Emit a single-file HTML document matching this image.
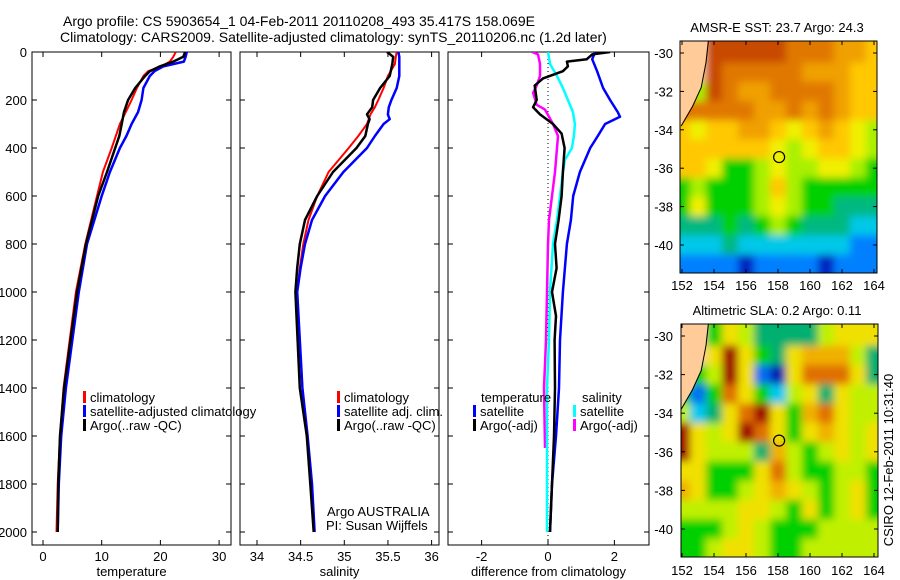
<!DOCTYPE html>
<html><head><meta charset="utf-8">
<style>
html,body{margin:0;padding:0;background:#fff;}
svg{display:block;font-family:"Liberation Sans",Arial,sans-serif;}
text{fill:#000;}
</style></head>
<body>
<svg id="fig" width="900" height="580" viewBox="0 0 900 580" xmlns="http://www.w3.org/2000/svg">
<defs>
<filter id="blur" filterUnits="userSpaceOnUse" x="640" y="0" width="260" height="580"><feGaussianBlur stdDeviation="4"/></filter>
<clipPath id="clipM1"><rect x="680" y="41" width="197" height="232"/></clipPath>
<clipPath id="clipM2"><rect x="681" y="324" width="197" height="233"/></clipPath>
<clipPath id="clipP1"><rect x="32" y="52" width="199" height="493"/></clipPath>
<clipPath id="clipP2"><rect x="240" y="52" width="199" height="493"/></clipPath>
<clipPath id="clipP3"><rect x="448" y="52" width="201" height="493"/></clipPath>
</defs>
<g font-size="14">
<text x="63" y="26">Argo profile: CS 5903654_1 04-Feb-2011 20110208_493 35.417S 158.069E</text>
<text x="60" y="42">Climatology: CARS2009. Satellite-adjusted climatology: synTS_20110206.nc (1.2d later)</text>
</g>
<g id="panels"></g>
<g id="maps"></g>
</svg>
<script>
// ---------- profile data ----------
const tDepth = [0,20,40,60,80,100,150,200,250,300,350,400,500,600,800,1000,1400,1600,1800,2000];
const tClim  = [22.6,22.2,21.6,20.2,17.9,17.1,16.0,15.1,14.1,13.1,12.4,11.7,10.2,9.2,7.2,5.6,3.5,2.9,2.5,2.3];
const tSat   = [24.5,24.3,24.0,20.5,19.0,18.2,17.1,16.8,16.2,15.1,14.2,13.1,11.4,10.0,7.5,6.1,3.9,3.1,2.7,2.5];
const tArgo  = [24.2,23.9,22.2,19.9,18.2,17.4,15.7,14.5,13.8,13.4,13.0,12.3,10.9,9.4,7.3,5.8,3.6,2.9,2.6,2.5];

const sDepth = [0,20,50,100,150,200,230,260,280,300,350,400,500,600,700,800,900,1000,1400,1600,1800,2000];
const sClim  = [35.60,35.59,35.58,35.50,35.45,35.39,35.35,35.30,35.28,35.26,35.16,35.05,34.82,34.69,34.59,34.53,34.49,34.46,34.52,34.58,34.63,34.66];
const sSat   = [35.62,35.63,35.63,35.63,35.60,35.54,35.51,35.50,35.52,35.45,35.35,35.26,34.99,34.78,34.63,34.55,34.50,34.46,34.52,34.58,34.63,34.66];
const sArgo  = [35.49,35.56,35.55,35.52,35.41,35.33,35.32,35.26,35.29,35.27,35.24,35.14,34.87,34.69,34.55,34.49,34.46,34.44,34.49,34.57,34.61,34.65];

const dDepthTS = [0,30,80,150,200,250,270,300,350,400,500,600,700,800,1000,1200,1400,1600,1800,2000];
const dTSat    = [1.42,1.33,1.48,1.66,1.87,2.10,2.17,1.72,1.50,1.27,0.96,0.76,0.69,0.57,0.45,0.36,0.33,0.24,0.12,0.06];
const dDepthTA = [0,10,30,40,60,80,110,140,200,230,260,300,340,400,500,600,700,800,900,1000,1100,1200,1400,1600,1800,2000];
const dTArgo   = [1.87,1.33,1.17,0.57,0.60,0.45,-0.15,-0.40,-0.34,-0.45,-0.24,0.15,0.41,0.50,0.45,0.41,0.32,0.21,0.26,0.12,0.24,0.20,0.21,0.18,0.12,0.06];
const dDepthSS = [0,50,100,150,200,250,300,350,400,450,500,600,700,800,1000,1200,1400,2000];
const dSSat    = [0.00,0.06,0.27,0.45,0.60,0.75,0.81,0.78,0.72,0.51,0.45,0.36,0.27,0.15,0.06,0.03,-0.03,-0.03];
const dDepthSA = [0,10,50,100,140,170,220,240,300,350,400,500,600,700,800,1000,1200,1400,1650];
const dSArgo   = [-0.48,-0.30,-0.24,-0.24,-0.34,-0.45,-0.34,-0.09,0.15,0.30,0.27,0.21,0.12,0.03,0.00,-0.03,-0.06,-0.12,-0.09];

const depthTicks = [0,200,400,600,800,1000,1200,1400,1600,1800,2000];
const tTicks = [0,10,20,30];
const sTicks = [34,34.5,35,35.5,36];
const sTickLabels = ["34","34.5","35","35.5","36"];
const dTicks = [-2,0,2];

// ---------- map data (1° cells, rows lat -30..-41, cols lon 152..164; L = land) ----------
const mapLons = [152,153,154,155,156,157,158,159,160,161,162,163,164];
const mapLats = [-30,-31,-32,-33,-34,-35,-36,-37,-38,-39,-40,-41];
const sstRows = ["LLaaaaa999887","LLa9999988877","L5a9889999877","9999988989877","7677887678765","7777776567765","7764456556654","4544457544444","4644456544333","3334345433322","2223222222211","1111011110111"];
const slaRows = ["LL46533335666","LL69643677753","L459610688863","4148642563655","5236896478655","9656986467656","9655537545656","6644468544554","7644567654564","5555665464564","4445654445555","4456654455555"];
const sstColors = ["#0020c0","#0080ff","#00c8e8","#00b880","#00d000","#a8f000","#f0f000","#ffc800","#f0a000","#e07800","#c84800","#a00000"];
const slaColors = ["#0020b0","#0070f0","#00c8f0","#00b070","#00d000","#c0f000","#f0e000","#f0b000","#e07000","#a00000"];
const sstTitle = "AMSR-E SST: 23.7 Argo: 24.3";
const slaTitle = "Altimetric SLA: 0.2 Argo: 0.11";
const argoLon = 158.07, argoLat = -35.42;
const mapXTicks = [152,154,156,158,160,162,164];
const mapYTicks = [-30,-32,-34,-36,-38,-40];

const NS = "http://www.w3.org/2000/svg";
function mk(tag, attrs, parent){const e=document.createElementNS(NS,tag);for(const k in attrs)e.setAttribute(k,attrs[k]);if(parent)parent.appendChild(e);return e;}
const panels = document.getElementById('panels');
const maps = document.getElementById('maps');
const yOf = d => 52 + 0.24*d;

function drawPanel(key, left, right, xScale, xt, xtLabels, title, showY){
  const g = mk('g',{},panels);
  
  
  const frame = mk('rect',{x:left,y:52,width:right-left,height:493,fill:'none',stroke:'#000','stroke-width':1},g);
  
  
  depthTicks.forEach(d=>{
    const y=yOf(d);
    mk('line',{x1:left,y1:y,x2:left+5,y2:y,stroke:'#000'},g);
    mk('line',{x1:right,y1:y,x2:right-5,y2:y,stroke:'#000'},g);
    if(showY){
      const t=mk('text',{x:27,y:y+5,'text-anchor':'end','font-size':13},g);
      t.textContent=d;
      
      
    }
  });
  xt.forEach((v,i)=>{
    const x=xScale(v);
    mk('line',{x1:x,y1:545,x2:x,y2:540,stroke:'#000'},g);
    mk('line',{x1:x,y1:52,x2:x,y2:57,stroke:'#000'},g);
    const t=mk('text',{x:x,y:561,'text-anchor':'middle','font-size':13},g);
    t.textContent=xtLabels[i];
    
    
  });
  const at=mk('text',{x:(left+right)/2,y:576,'text-anchor':'middle','font-size':13},g);
  at.textContent=title;
  
  
  return g;
}
function line(g, clip, depths, vals, xScale, color, w, name){
  const pts = depths.map((d,i)=>xScale(vals[i]).toFixed(1)+','+yOf(d).toFixed(1)).join(' ');
  const p = mk('polyline',{points:pts,fill:'none',stroke:color,'stroke-width':w,'stroke-linejoin':'round','clip-path':'url(#'+clip+')'},g);
  
  
}
function legend(g, x, y, color, label, name){
  mk('rect',{x:x,y:y-11,width:3,height:12,fill:color},g);
  const t=mk('text',{x:x+7,y:y,'font-size':13},g);
  t.textContent=label;
  
  
}

// Panel 1: temperature
const xT = v => 43 + 5.87*v;
const g1 = drawPanel('temperature', 32, 231, xT, tTicks, tTicks.map(String), 'temperature', true);
line(g1,'clipP1',tDepth,tClim,xT,'#ff0000',2,'temperature-climatology-line');
line(g1,'clipP1',tDepth,tSat,xT,'#0000ff',2.5,'temperature-satellite-line');
line(g1,'clipP1',tDepth,tArgo,xT,'#000000',2.5,'temperature-argo-line');
legend(g1,83,402,'#ff0000','climatology','legend-climatology');
legend(g1,83,416,'#0000ff','satellite-adjusted climatology','legend-satellite-adjusted');
legend(g1,83,430,'#000000','Argo(..raw -QC)','legend-argo');

// Panel 2: salinity
const xS = v => 257 + 87.3*(v-34);
const g2 = drawPanel('salinity', 240, 439, xS, sTicks, sTickLabels, 'salinity', false);
line(g2,'clipP2',sDepth,sClim,xS,'#ff0000',2,'salinity-climatology-line');
line(g2,'clipP2',sDepth,sSat,xS,'#0000ff',2.5,'salinity-satellite-line');
line(g2,'clipP2',sDepth,sArgo,xS,'#000000',2.5,'salinity-argo-line');
legend(g2,337,402,'#ff0000','climatology','legend-climatology-sal');
legend(g2,337,416,'#0000ff','satellite adj. clim.','legend-satellite-sal');
legend(g2,337,430,'#000000','Argo(..raw -QC)','legend-argo-sal');
{const t1=mk('text',{x:327,y:516,'font-size':13},g2);t1.textContent='Argo AUSTRALIA';


const t2=mk('text',{x:326,y:530,'font-size':13},g2);t2.textContent='PI: Susan Wijffels';

}

// Panel 3: difference
const xD = v => 548 + 33.2*v;
const g3 = drawPanel('difference', 448, 649, xD, dTicks, dTicks.map(String), 'difference from climatology', false);
{const z=mk('line',{x1:xD(0),y1:55,x2:xD(0),y2:540,stroke:'#000','stroke-width':1,'stroke-dasharray':'1,3'},g3);

}
line(g3,'clipP3',dDepthSA,dSArgo,xD,'#ff00ff',2.5,'salinity-argo-diff-line');
line(g3,'clipP3',dDepthSS,dSSat,xD,'#00ffff',2.5,'salinity-satellite-diff-line');
line(g3,'clipP3',dDepthTS,dTSat,xD,'#0000ff',2.5,'temperature-satellite-diff-line');
line(g3,'clipP3',dDepthTA,dTArgo,xD,'#000000',2.5,'temperature-argo-diff-line');
{const t=mk('text',{x:481,y:402,'font-size':13},g3);t.textContent='temperature';


const s=mk('text',{x:582,y:402,'font-size':13},g3);s.textContent='salinity';

}
legend(g3,473,416,'#0000ff','satellite','legend-temp-satellite');
legend(g3,473,430,'#000000','Argo(-adj)','legend-temp-argo');
legend(g3,573,416,'#00ffff','satellite','legend-sal-satellite');
legend(g3,573,430,'#ff00ff','Argo(-adj)','legend-sal-argo');

// ---------- maps ----------
function drawMap(key, x0, y0, w, h, latTop, pxLat, rows, colors, title, clip, xlabY){
  const lonX = l => 682 + (l-152)*16;
  const latY = v => latTop + (-30 - v)*pxLat;
  const g = mk('g',{},maps);
  
  
  const cg = mk('g',{'clip-path':'url(#'+clip+')'},g);
  const cells = mk('g',{filter:'url(#blur)'},cg);
  rows.forEach((row,j)=>{
    row.split('').forEach((ch,i)=>{
      let v = ch==='L' ? null : parseInt(ch,16);
      let c = v===null ? '#ffcc99' : colors[v];
      const lat = mapLats[j], lon = mapLons[i];
      let yT = latY(lat+0.5), yB = latY(lat-0.5);
      if(j===0) yT -= 14;
      if(j===rows.length-1) yB += 14;
      let xL = lonX(lon-0.5), xR = lonX(lon+0.5);
      if(i===0) xL -= 14;
      if(i===row.length-1) xR += 14;
      const r = mk('rect',{x:xL,y:yT,width:xR-xL+0.5,height:yB-yT+0.5,fill:c},cells);
      
      
    });
  });
  // land
  const coast = [[151.5,-29.0],[153.65,-29.0],[153.45,-30.5],[153.15,-31.8],[152.6,-32.8],[151.9,-33.8],[151.5,-34.2]];
  const lp = coast.map(p=>lonX(p[0]).toFixed(1)+','+latY(p[1]).toFixed(1)).join(' ');
  const land = mk('polygon',{points:lp,fill:'#ffcc99'},cg);
  
  
  const cl = mk('polyline',{points:coast.slice(1,-1).map(p=>lonX(p[0]+0.05).toFixed(1)+','+latY(p[1]).toFixed(1)).join(' '),fill:'none',stroke:'#000','stroke-width':1},cg);
  
  
  const circ = mk('circle',{cx:lonX(argoLon),cy:latY(argoLat),r:5.5,fill:'none',stroke:'#000','stroke-width':1.2},g);
  
  
  const fr = mk('rect',{x:x0,y:y0,width:w,height:h,fill:'none',stroke:'#000','stroke-width':1},g);
  
  
  mapXTicks.forEach(l=>{
    const x=lonX(l);
    mk('line',{x1:x,y1:y0+h,x2:x,y2:y0+h-4,stroke:'#000'},g);
    mk('line',{x1:x,y1:y0,x2:x,y2:y0+4,stroke:'#000'},g);
    const t=mk('text',{x:x,y:xlabY,'text-anchor':'middle','font-size':13},g);
    t.textContent=l;
    
    
  });
  mapYTicks.forEach(v=>{
    const y=latY(v);
    mk('line',{x1:x0,y1:y,x2:x0+4,y2:y,stroke:'#000'},g);
    mk('line',{x1:x0+w,y1:y,x2:x0+w-4,y2:y,stroke:'#000'},g);
    const t=mk('text',{x:673,y:y+5,'text-anchor':'end','font-size':13},g);
    t.textContent=v;
    
    
  });
  const tt=mk('text',{x:777,y:y0-9,'text-anchor':'middle','font-size':13},g);
  tt.textContent=title;
  
  
}
drawMap('sst', 680, 41, 197, 232, 53, 19.2, sstRows, sstColors, sstTitle, 'clipM1', 290);
drawMap('sla', 681, 324, 197, 233, 336, 19.3, slaRows, slaColors, slaTitle, 'clipM2', 575);
{const t=mk('text',{x:0,y:0,'text-anchor':'middle','font-size':13,transform:'translate(893,460) rotate(-90)'},maps);
t.textContent='CSIRO 12-Feb-2011 10:31:40';

}
</script>
</body></html>
